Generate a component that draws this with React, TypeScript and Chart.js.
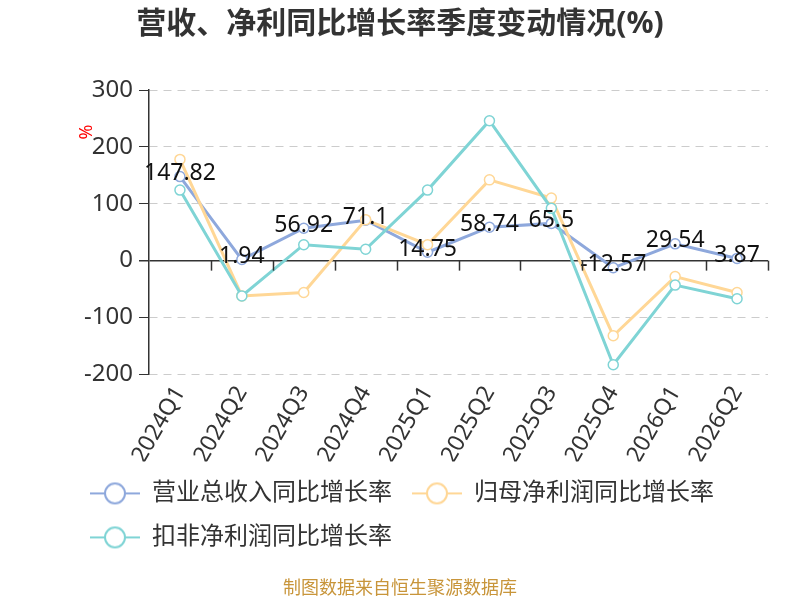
import Chart from 'chart.js/auto';
import { useEffect, useRef } from 'react';

const quarters = ['2024Q1', '2024Q2', '2024Q3', '2024Q4', '2025Q1', '2025Q2', '2025Q3', '2025Q4', '2026Q1', '2026Q2'];
const revenueYoy = [147.82, 1.94, 56.92, 71.1, 14.75, 58.74, 65.5, -12.57, 29.54, 3.87];
const netProfitYoy = [178, -62, -56, 72, 28, 142, 110, -132, -28, -56];
const deductedProfitYoy = [124, -62, 28, 20, 124, 246, 92, -183, -43, -67];
const yTicks = [-200, -100, 0, 100, 200, 300];

const FONT = '"Noto Sans", "Noto Sans CJK SC", sans-serif';
const BLUE = '#8ea8dc';
const ORANGE = '#ffd796';
const TEAL = '#7fd4d5';

function legendIcon(color: string) {
	const c = document.createElement('canvas');
	c.width = 50;
	c.height = 26;
	const g = c.getContext('2d')!;
	g.strokeStyle = color;
	g.lineWidth = 2;
	g.beginPath();
	g.moveTo(0, 13);
	g.lineTo(50, 13);
	g.stroke();
	g.fillStyle = '#fff';
	g.beginPath();
	g.arc(25, 13, 10, 0, Math.PI * 2);
	g.fill();
	g.stroke();
	return c;
}

const decor = {
	id: 'decor',
	afterLayout(chart: any) {
		// centre title and footer on the whole canvas, not the padded area
		chart.boxes.forEach((b: any) => {
			if (b.options && typeof b.options.text === 'string' && b.options.text.length) {
				b.left = 0;
				b.right = chart.width;
				b.width = chart.width;
			}
		});
	},
	afterDraw(chart: any) {
		const { ctx, scales, chartArea } = chart;
		const x = scales.x;
		const y = scales.y;
		const y0 = y.getPixelForValue(0);
		ctx.save();
		// axis ticks on zero line
		ctx.strokeStyle = '#333';
		ctx.lineWidth = 1.5;
		for (let k = 1; k <= quarters.length; k++) {
			const px = Math.round(x.getPixelForValue(k - 0.5)) + 0.5;
			ctx.beginPath();
			ctx.moveTo(px, y0);
			ctx.lineTo(px, y0 + 10);
			ctx.stroke();
		}
		// % unit label
		ctx.fillStyle = '#ff0000';
		ctx.font = `18px ${FONT}`;
		ctx.textAlign = 'center';
		ctx.textBaseline = 'middle';
		ctx.translate(chartArea.left - 62, chartArea.top + 42);
		ctx.rotate(-Math.PI / 2);
		ctx.fillText('%', 0, 0);
		ctx.restore();
	},
	afterDatasetsDraw(chart: any) {
		const { ctx } = chart;
		const meta = chart.getDatasetMeta(0);
		ctx.save();
		ctx.fillStyle = '#111';
		ctx.font = `23px ${FONT}`;
		ctx.textAlign = 'center';
		ctx.textBaseline = 'middle';
		meta.data.forEach((pt: any, i: number) => {
			ctx.fillText(String(revenueYoy[i]), pt.x, pt.y - 3);
		});
		ctx.restore();
	},
};

export default function App() {
	const ref = useRef<HTMLCanvasElement | null>(null);
	useEffect(() => {
		if (!ref.current) return;
		const icons = [legendIcon(BLUE), legendIcon(ORANGE), legendIcon(TEAL)];
		const mk = (label: string, data: number[], color: string, order: number) => ({
			label,
			data,
			order,
			borderColor: color,
			backgroundColor: '#fff',
			borderWidth: 3,
			pointRadius: 5,
			pointBorderWidth: 1.5,
			pointBackgroundColor: '#fff',
			pointBorderColor: color,
			pointStyle: 'circle',
			tension: 0,
		});
		const chart = new Chart(ref.current, {
			type: 'line',
			data: {
				labels: quarters,
				datasets: [
					mk('营业总收入同比增长率', revenueYoy, BLUE, 3),
					mk('归母净利润同比增长率', netProfitYoy, ORANGE, 2),
					mk('扣非净利润同比增长率', deductedProfitYoy, TEAL, 1),
				],
			},
			options: {
				animation: false,
				responsive: false,
				layout: { padding: { left: 70, right: 32, top: 0, bottom: 0 } },
				scales: {
					x: {
						offset: true,
						grid: { display: false, drawTicks: false },
						border: { display: false },
						ticks: {
							color: '#333',
							font: { family: FONT, size: 23 },
							minRotation: 60,
							maxRotation: 60,
							padding: 7,
							autoSkip: false,
						},
						afterFit: (s: any) => { s.height = 87; },
					},
					y: {
						min: -200,
						max: 300,
						afterBuildTicks: (s: any) => { s.ticks = yTicks.map((v) => ({ value: v })); },
						grid: {
							color: (c: any) => (c.tick && c.tick.value === 0 ? '#333' : '#cccccc'),
							lineWidth: (c: any) => (c.tick && c.tick.value === 0 ? 1.5 : 1),
							tickColor: '#333',
							tickLength: 10,
						},
						border: {
							color: '#333',
							width: 1.5,
							dash: (c: any) => (c.tick && c.tick.value === 0 ? [] : [8, 6]),
						},
						ticks: {
							color: '#333',
							font: { family: FONT, size: 24 },
							padding: 6,
						},
						afterFit: (s: any) => { s.width = 79; },
					},
				},
				plugins: {
					title: {
						display: true,
						text: '营收、净利同比增长率季度变动情况(%)',
						color: '#333',
						font: { family: FONT, size: 30, weight: 'bold' },
						padding: { top: 6, bottom: 48 },
					},
					subtitle: {
						display: true,
						position: 'bottom',
						text: '制图数据来自恒生聚源数据库',
						color: '#c8953a',
						font: { family: FONT, size: 18 },
						padding: { top: 19, bottom: 0 },
					},
					legend: {
						position: 'bottom',
						align: 'start',
						labels: {
							usePointStyle: true,
							pointStyleWidth: 50,
							padding: 20,
							color: '#333',
							font: { family: FONT, size: 24 },
							generateLabels: (ch: any) =>
								ch.data.datasets.map((ds: any, i: number) => ({
									text: ds.label,
									datasetIndex: i,
									pointStyle: icons[i],
									fillStyle: '#fff',
									strokeStyle: ds.borderColor,
									lineWidth: 0,
									fontColor: '#333',
									hidden: false,
								})),
						},
					},
					tooltip: { enabled: false },
				},
			},
			plugins: [decor],
		});
		return () => chart.destroy();
	}, []);

	return (
		<div style={{ position: 'fixed', left: 0, top: 0, width: 800, height: 600, background: '#fff' }}>
			<canvas ref={ref} width={800} height={600}></canvas>
		</div>
	);
}
